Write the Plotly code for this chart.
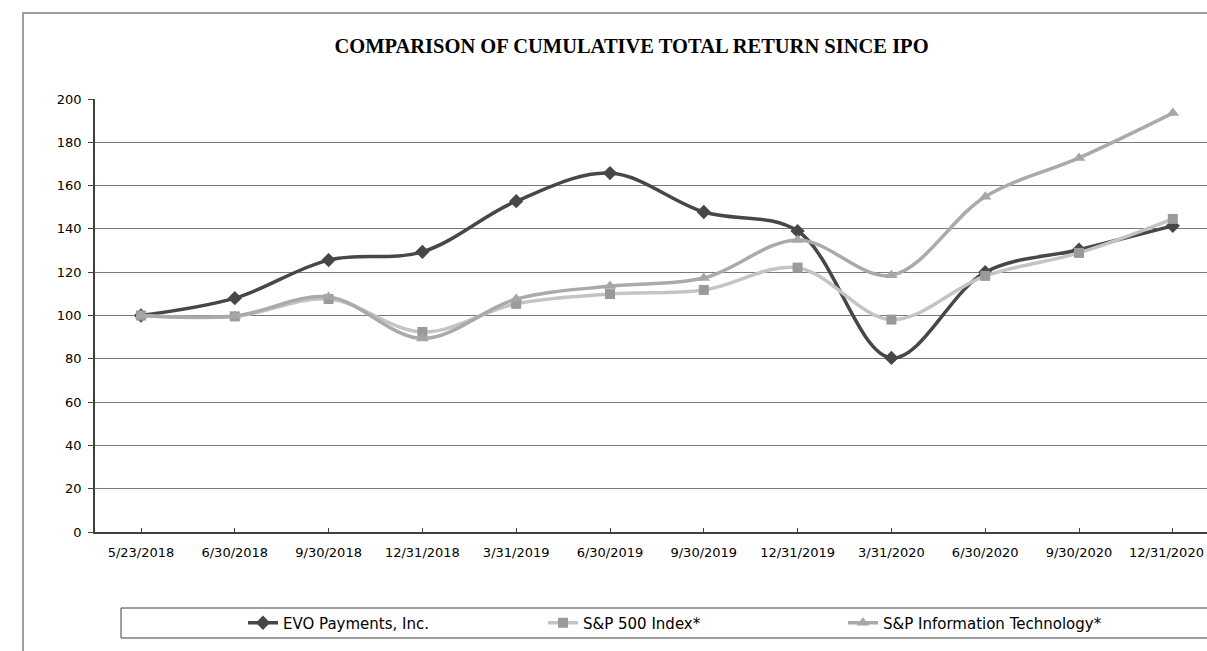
import plotly.graph_objects as go

categories = ["5/23/2018", "6/30/2018", "9/30/2018", "12/31/2018", "3/31/2019", "6/30/2019",
              "9/30/2019", "12/31/2019", "3/31/2020", "6/30/2020", "9/30/2020", "12/31/2020"]
evo = [100, 108, 125.6, 129.4, 152.8, 165.8, 147.8, 139.0, 80.4, 120.0, 130.4, 141.4]
sp500 = [100, 99.6, 107.6, 92.4, 105.4, 109.9, 111.8, 122.1, 98.1, 118.3, 128.9, 144.6]
spit = [100, 99.8, 108.6, 89.4, 107.6, 113.6, 117.3, 134.9, 118.6, 154.9, 172.8, 193.5]
yticks = [0, 20, 40, 60, 80, 100, 120, 140, 160, 180, 200]

W, H = 1207, 651
L, R, T, B = 95, 1207, 99, 532
x_idx = list(range(len(categories)))

def px(x):
    return (x - L) / (R - L)

def py(y):
    return (B - y) / (B - T)

fig = go.Figure()
fig.add_trace(go.Scatter(
    x=x_idx, y=evo, name="EVO Payments, Inc.", mode="lines+markers",
    line=dict(color="#474747", width=3.5, shape="spline", smoothing=1.0),
    marker=dict(symbol="diamond", size=11, color="#474747")))
fig.add_trace(go.Scatter(
    x=x_idx, y=sp500, name="S&P 500 Index*", mode="lines+markers",
    line=dict(color="#c4c4c4", width=3.5, shape="spline", smoothing=1.0),
    marker=dict(symbol="square", size=10, color="#9a9a9a")))
fig.add_trace(go.Scatter(
    x=x_idx, y=spit, name="S&P Information Technology*", mode="lines+markers",
    line=dict(color="#aaaaaa", width=3.5, shape="spline", smoothing=1.0),
    marker=dict(symbol="triangle-up", size=11, color="#a6a6a6")))

step = 93.8
x0 = (L - 141) / step
x1 = (R - 141) / step

# last category label would overflow the page edge: draw it as a right-anchored label instead
ticktext = categories[:-1] + [""]

fig.update_layout(
    width=W, height=H, template="none",
    paper_bgcolor="white", plot_bgcolor="white",
    margin=dict(l=L, r=W - R, t=T, b=H - B, autoexpand=False),
    font=dict(family="DejaVu Sans", size=13, color="#000000"),
    title=dict(text="<b>COMPARISON OF CUMULATIVE TOTAL RETURN SINCE IPO</b>",
               font=dict(family="Liberation Serif, Times New Roman", size=20.5, color="#000000"),
               xref="container", x=631.5 / W, xanchor="center",
               yref="container", y=1 - 46 / H, yanchor="middle"),
    xaxis=dict(range=[x0, x1], tickmode="array", tickvals=x_idx, ticktext=ticktext,
               showgrid=False, zeroline=False, showline=True, linecolor="#404040", linewidth=1.5,
               ticks="inside", ticklen=4, tickcolor="#404040", automargin=False,
               ticklabelstandoff=8, ticklabeloverflow="allow", tickfont=dict(size=13)),
    yaxis=dict(range=[0, 200], tickmode="array", tickvals=yticks,
               showgrid=True, gridcolor="#7a7a7a", gridwidth=1, zeroline=False,
               showline=True, linecolor="#404040", linewidth=1.5,
               ticks="outside", ticklen=5, tickcolor="#404040", automargin=False,
               ticklabelstandoff=4, tickfont=dict(size=13)),
    legend=dict(orientation="h", x=px(243), xanchor="left", y=py(623), yanchor="middle",
                bgcolor="rgba(0,0,0,0)", borderwidth=0, entrywidth=255, entrywidthmode="pixels",
                font=dict(size=15), traceorder="normal", itemwidth=30),
    showlegend=True,
    annotations=[
        dict(text=categories[-1], xref="paper", yref="paper", x=px(1206), y=py(552),
             xanchor="right", yanchor="middle", showarrow=False,
             font=dict(family="DejaVu Sans", size=13, color="#000000")),
    ],
    shapes=[
        dict(type="rect", xref="paper", yref="paper", x0=px(23), x1=px(1230), y0=py(680), y1=py(13),
             line=dict(color="#808080", width=1.5), fillcolor="rgba(0,0,0,0)", layer="below"),
        dict(type="rect", xref="paper", yref="paper", x0=px(121), x1=px(1230), y0=py(638), y1=py(608),
             line=dict(color="#404040", width=1), fillcolor="rgba(0,0,0,0)", layer="below"),
    ],
)

fig.write_html("out.html")
